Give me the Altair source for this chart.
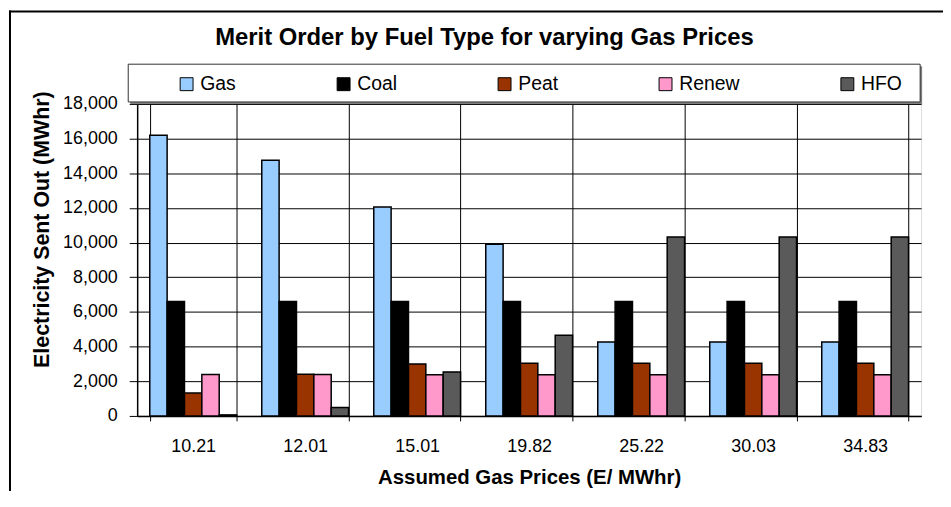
import altair as alt
import pandas as pd

# ---- data ----
prices = ["10.21", "12.01", "15.01", "19.82", "25.22", "30.03", "34.83"]
fuels = ["Gas", "Coal", "Peat", "Renew", "HFO"]
gas = [16200, 14750, 12050, 9900, 4260, 4260, 4260]
coal = [6600, 6600, 6600, 6600, 6600, 6600, 6600]
peat = [1320, 2400, 3000, 3040, 3040, 3040, 3040]
renew = [2390, 2390, 2380, 2380, 2380, 2380, 2380]
hfo = [60, 480, 2540, 4660, 10330, 10330, 10330]
y_ticks = [0, 2000, 4000, 6000, 8000, 10000, 12000, 14000, 16000, 18000]
colors = ["#99CCFF", "#000000", "#993300", "#FF99CC", "#5A5A5A"]

series = {"Gas": gas, "Coal": coal, "Peat": peat, "Renew": renew, "HFO": hfo}
rows = []
for f in fuels:
    for p, v in zip(prices, series[f]):
        rows.append({"price": p, "fuel": f, "value": v})
df = pd.DataFrame(rows)

FONT = "Liberation Sans"
W, H = 789, 314

bars = alt.Chart(df).mark_bar(stroke="black", strokeWidth=1.5).encode(
    x=alt.X(
        "price:N",
        sort=prices,
        scale=alt.Scale(paddingInner=0.225, paddingOuter=0.1125),
        axis=alt.Axis(
            title="Assumed Gas Prices (E/ MWhr)",
            labelAngle=0,
            tickBand="extent",
            grid=True,
            gridColor="black",
            gridWidth=1,
            gridOpacity=1,
            ticks=True,
            tickSize=5,
            tickColor="black",
            domainColor="black",
            domainWidth=1.5,
            labelFont=FONT,
            labelFontSize=18,
            labelColor="black",
            labelPadding=17,
            titleFont=FONT,
            titleFontSize=20.5,
            titleFontWeight="bold",
            titleColor="black",
            titleBaseline="alphabetic",
            titleY=68,
        ),
    ),
    xOffset=alt.XOffset("fuel:N", sort=fuels, scale=alt.Scale(paddingInner=0, paddingOuter=0)),
    y=alt.Y(
        "value:Q",
        scale=alt.Scale(domain=[0, 18000], nice=False),
        axis=alt.Axis(
            title="Electricity Sent Out (MWhr)",
            values=y_ticks,
            format=",.0f",
            grid=True,
            gridColor="black",
            gridWidth=1,
            gridOpacity=1,
            tickSize=8,
            tickColor="black",
            domainColor="black",
            domainWidth=1.5,
            labelFont=FONT,
            labelFontSize=18,
            labelColor="black",
            labelPadding=12,
            titleFont=FONT,
            titleFontSize=21.5,
            titleFontWeight="bold",
            titleColor="black",
            titleBaseline="alphabetic",
            titleX=-89,
            titleY=126,
        ),
    ),
    color=alt.Color(
        "fuel:N",
        sort=fuels,
        scale=alt.Scale(domain=fuels, range=colors),
        legend=alt.Legend(
            title=None,
            orient="none",
            legendX=40,
            legendY=-30,
            direction="horizontal",
            columns=5,
            columnPadding=98,
            padding=0,
            symbolType="square",
            symbolSize=169,
            symbolStrokeColor="black",
            symbolStrokeWidth=1,
            symbolOpacity=1,
            labelFont=FONT,
            labelFontSize=19.5,
            labelColor="black",
            labelOffset=4,
        ),
    ),
)

one = pd.DataFrame({"k": [0]})
frame_top = alt.Chart(one).mark_rule(color="black", strokeWidth=2).encode(
    x=alt.value(-129), x2=alt.value(830), y=alt.value(-93)
)
frame_left = alt.Chart(one).mark_rule(color="black", strokeWidth=2).encode(
    x=alt.value(-128), y=alt.value(-94), y2=alt.value(420)
)
shadow = alt.Chart(one).mark_rect(fill="#808080").encode(
    x=alt.value(-7), x2=alt.value(790), y=alt.value(-38), y2=alt.value(0)
)
box = alt.Chart(one).mark_rect(fill="white", stroke="#303030", strokeWidth=1).encode(
    x=alt.value(-9), x2=alt.value(788), y=alt.value(-40), y2=alt.value(-2)
)

chart = alt.layer(frame_top, frame_left, shadow, box, bars).properties(
    width=W,
    height=H,
    autosize=alt.AutoSizeParams(type="none"),
    padding={"left": 130, "top": 95, "right": 22, "bottom": 74},
    title=alt.TitleParams(
        text="Merit Order by Fuel Type for varying Gas Prices",
        font=FONT,
        fontSize=24,
        fontWeight="bold",
        color="black",
        anchor="middle",
        frame="group",
        baseline="alphabetic",
        offset=0,
        dx=-45,
        dy=60,
    ),
).configure_view(
    fill="#C0C0C0", stroke="#808080", strokeWidth=2
).configure(background="white")

chart.save("out.html", embed_options={"renderer": "svg", "actions": False})
